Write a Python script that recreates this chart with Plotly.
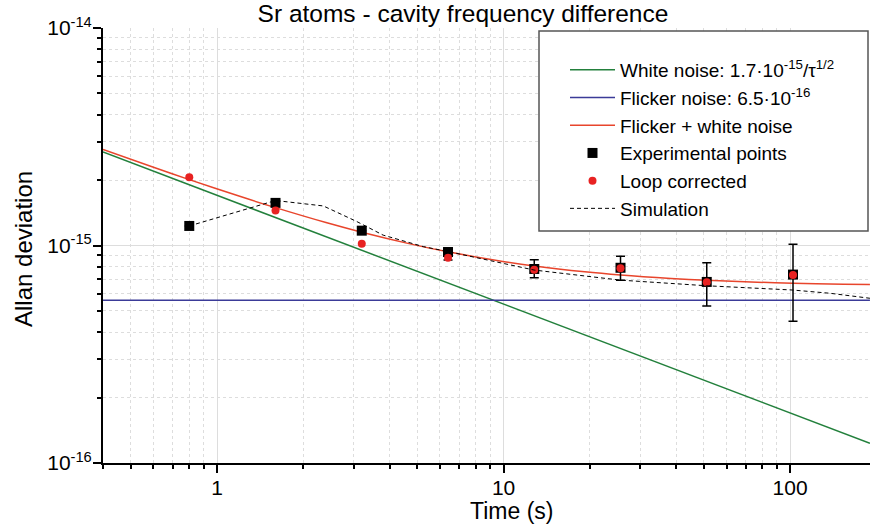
import plotly.graph_objects as go

# ---- data ----
tau_pts = [0.8, 1.6, 3.2, 6.4, 12.8, 25.6, 51.2, 102.4]
exp_vals = [1.23e-15, 1.57e-15, 1.17e-15, 9.33e-16, 7.80e-16, 7.90e-16, 6.80e-16, 7.35e-16]
exp_err_hi = [0.0, 0.0, 0.0, 9.74e-16, 8.60e-16, 8.92e-16, 8.32e-16, 1.014e-15]
exp_err_lo = [0.0, 0.0, 0.0, 8.58e-16, 7.11e-16, 6.92e-16, 5.27e-16, 4.48e-16]
loop_vals = [2.06e-15, 1.45e-15, 1.02e-15, 8.79e-16, 7.74e-16, 7.86e-16, 6.78e-16, 7.31e-16]

white_x = [0.4, 190]
white_y = [2.69e-15, 1.233e-16]
flicker_x = [0.4, 190]
flicker_y = [5.6e-16, 5.6e-16]

comb_x = [0.4, 0.6, 0.8, 1.2, 1.6, 2.4, 3.2, 4.8, 6.4, 9.6, 12.8, 19.2, 25.6,
          38.4, 51.2, 76.8, 102.4, 153.6, 190]
comb_y = [2.765e-15, 2.289e-15, 2.009e-15, 1.683e-15, 1.493e-15, 1.275e-15,
          1.151e-15, 1.012e-15, 9.35e-16, 8.51e-16, 8.05e-16, 7.57e-16, 7.32e-16,
          7.06e-16, 6.92e-16, 6.78e-16, 6.71e-16, 6.64e-16, 6.62e-16]

sim_x = [0.8, 1.6, 2.35, 3.07, 3.8, 5.25, 6.4, 12.8, 25.6, 51.2, 102.4, 138, 190]
sim_y = [1.23e-15, 1.61e-15, 1.52e-15, 1.29e-15, 1.116e-15, 9.88e-16, 9.38e-16,
         7.71e-16, 6.93e-16, 6.53e-16, 6.24e-16, 6.03e-16, 5.72e-16]

x_ticks = [1, 10, 100]
x_ticklabels = ["1", "10", "100"]
x_minor = [0.4, 0.5, 0.6, 0.7, 0.8, 0.9, 2, 3, 4, 5, 6, 7, 8, 9,
           20, 30, 40, 50, 60, 70, 80, 90]
y_ticks = [1e-16, 1e-15, 1e-14]
y_ticklabels = ["10<sup>-16</sup>", "10<sup>-15</sup>", "10<sup>-14</sup>"]
y_minor = [k * 1e-16 for k in range(2, 10)] + [k * 1e-15 for k in range(2, 10)]

names = ["White noise: 1.7·10<sup>-15</sup>/τ<sup>1/2</sup>",
         "Flicker noise: 6.5·10<sup>-16</sup>",
         "Flicker + white noise",
         "Experimental points",
         "Loop corrected",
         "Simulation"]

FONT = "Liberation Sans, Arial, sans-serif"

fig = go.Figure()
fig.add_trace(go.Scatter(x=white_x, y=white_y, mode="lines", name=names[0],
                         line=dict(color="#23803c", width=1.5)))
fig.add_trace(go.Scatter(x=flicker_x, y=flicker_y, mode="lines", name=names[1],
                         line=dict(color="#3b3b98", width=1.5)))
fig.add_trace(go.Scatter(x=comb_x, y=comb_y, mode="lines", name=names[2],
                         line=dict(color="#e8452c", width=1.5, shape="spline")))
fig.add_trace(go.Scatter(x=tau_pts, y=exp_vals, mode="markers", name=names[3],
                         marker=dict(symbol="square", size=10, color="black"),
                         error_y=dict(type="data", symmetric=False,
                                      array=[h - v if h else 0 for h, v in zip(exp_err_hi, exp_vals)],
                                      arrayminus=[v - l if l else 0 for l, v in zip(exp_err_lo, exp_vals)],
                                      color="black", thickness=1.5, width=4.5)))
fig.add_trace(go.Scatter(x=tau_pts, y=loop_vals, mode="markers", name=names[4],
                         marker=dict(symbol="circle", size=8, color="#e82222")))
fig.add_trace(go.Scatter(x=sim_x, y=sim_y, mode="lines", name=names[5],
                         line=dict(color="black", width=1, dash="4px,3px")))

axis_common = dict(
    type="log", showline=True, linecolor="black", linewidth=2,
    ticks="outside", ticklen=8, tickwidth=1.5, tickcolor="black",
    showgrid=True, gridcolor="#dddddd", gridwidth=1,
    tickfont=dict(size=21, family=FONT, color="black"),
    zeroline=False, mirror=False, automargin=False,
)

fig.update_xaxes(range=[-0.398, 2.279], tickmode="array", tickvals=x_ticks,
                 ticktext=x_ticklabels, ticklabelstandoff=-3,
                 minor=dict(tickmode="array", tickvals=x_minor, ticks="outside",
                            ticklen=4, tickwidth=1.5, tickcolor="black", showgrid=True,
                            gridcolor="#dddddd", griddash="dot", gridwidth=1),
                 **axis_common)
fig.update_yaxes(range=[-16, -14], tickmode="array", tickvals=y_ticks,
                 ticktext=y_ticklabels, ticklabelstandoff=-3,
                 minor=dict(tickmode="array", tickvals=y_minor, ticks="outside",
                            ticklen=4, tickwidth=1.5, tickcolor="black", showgrid=True,
                            gridcolor="#dddddd", griddash="dot", gridwidth=1),
                 **axis_common)

fig.add_shape(type="rect", xref="paper", yref="paper",
              x0=(539 - 103) / 767, x1=(868 - 103) / 767,
              y0=(463 - 231) / 435, y1=(463 - 31) / 435,
              line=dict(color="#555555", width=1.5), fillcolor="white", layer="above")

fig.update_layout(
    width=870, height=528,
    margin=dict(l=103, r=0, t=28, b=65),
    plot_bgcolor="white", paper_bgcolor="white",
    font=dict(family=FONT, color="black"),
    title=dict(text="Sr atoms - cavity frequency difference", x=463 / 870, xanchor="center",
               xref="container", y=1 - 13 / 528, yanchor="middle", yref="container",
               font=dict(size=24.5, family=FONT, color="black")),
    showlegend=True,
    legend=dict(x=(565 - 103) / 767, y=(463 - 51) / 435, xanchor="left", yanchor="top",
                bgcolor="rgba(0,0,0,0)", borderwidth=0, itemwidth=45,
                font=dict(size=19, family=FONT, color="black")),
    annotations=[
        dict(text="Time (s)", xref="paper", yref="paper", x=(511 - 103) / 767,
             y=-(511 - 463) / 435, showarrow=False, xanchor="center", yanchor="middle",
             font=dict(size=23, family=FONT, color="black")),
        dict(text="Allan deviation", xref="paper", yref="paper", x=-(103 - 23) / 767,
             y=(463 - 249) / 435, showarrow=False, xanchor="center", yanchor="middle",
             textangle=-90, font=dict(size=24, family=FONT, color="black")),
    ],
)

fig.write_html("out.html", config={"displayModeBar": False},
               post_script="document.body.style.margin='0px';document.body.style.padding='0px';")
